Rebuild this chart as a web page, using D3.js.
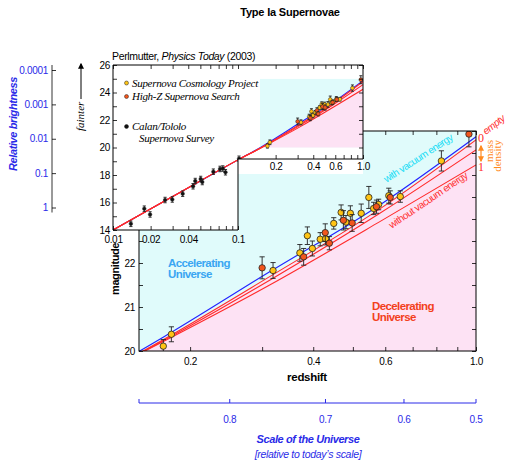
<!DOCTYPE html>
<meta charset="utf-8">
<head>
<script src="https://d3js.org/d3.v7.min.js"></script>
<style>
  body { margin: 0; background: #fff; }
  text { font-family: "Liberation Sans", Arial, Helvetica, sans-serif; }
  .serif { font-family: "Liberation Serif", "Times New Roman", serif; }
</style>
<title>Type Ia Supernovae</title>
</head>
<body>
<script>

// Supernova Cosmology Project (yellow): redshift, magnitude, error
var scpZ   = [0.172, 0.180, 0.319, 0.371, 0.387, 0.398, 0.416, 0.429, 0.449, 0.468, 0.481, 0.493, 0.524, 0.547, 0.562, 0.578, 0.612, 0.653, 0.823];
var scpMag = [20.11, 20.38, 21.83, 22.23, 22.62, 22.33, 22.54, 22.55, 22.90, 23.15, 22.93, 23.13, 23.13, 23.49, 23.24, 23.33, 23.53, 23.51, 24.32];
var scpErr = [0.15, 0.17, 0.18, 0.19, 0.20, 0.17, 0.15, 0.14, 0.13, 0.17, 0.15, 0.17, 0.21, 0.25, 0.14, 0.12, 0.17, 0.13, 0.23];

// High-Z Supernova Search (red)
var hzZ   = [0.300, 0.379, 0.428, 0.438, 0.474, 0.498, 0.571, 0.617, 0.961];
var hzMag = [21.89, 22.14, 22.69, 22.45, 22.97, 22.91, 23.28, 23.49, 24.93];
var hzErr = [0.25, 0.19, 0.20, 0.15, 0.22, 0.19, 0.15, 0.15, 0.29];

// Calan/Tololo Supernova Survey (black, inset only)
var ctZ   = [0.0139, 0.0178, 0.0198, 0.0261, 0.0298, 0.0361, 0.0437, 0.0455, 0.0503, 0.0518, 0.0635, 0.0718, 0.0756, 0.0794, 0.1019];
var ctMag = [14.45, 15.55, 15.13, 16.18, 16.22, 16.64, 17.18, 17.56, 17.71, 17.49, 18.24, 18.44, 18.47, 18.20, 19.18];
var ctErr = [0.2, 0.2, 0.2, 0.2, 0.2, 0.2, 0.2, 0.2, 0.2, 0.2, 0.2, 0.2, 0.2, 0.2, 0.2];

// model curves (magnitude at each redshift)
var curveZ      = [0.01, 0.03, 0.1, 0.15, 0.313, 0.582, 1.0];
var vacuumLine  = [14.0, 16.43, 19.1, 19.99, 21.80, 23.32, 24.87];
var emptyLine   = [14.0, 16.43, 19.1, 19.95, 21.69, 23.23, 24.80];
var halfLine    = [14.0, 16.43, 19.1, 19.94, 21.61, 23.13, 24.57];
var denseLine   = [14.0, 16.43, 19.1, 19.93, 21.50, 22.94, 24.23];

// ticks
var mainMinorZ   = [0.2, 0.3, 0.4, 0.5, 0.6, 0.7, 0.8, 0.9, 1.0];
var mainLabelZ   = [0.2, 0.4, 0.6, 1.0];
var mainLabelTxt = ["0.2", "0.4", "0.6", "1.0"];
var mainMagTicks = [20, 20.5, 21, 21.5, 22, 22.5, 23, 23.5, 24, 24.5, 25];
var mainMagLabels = [20, 21, 22];

var insetMinorZ   = [0.01, 0.02, 0.03, 0.04, 0.05, 0.06, 0.07, 0.08, 0.09, 0.1, 0.2, 0.3, 0.4, 0.5, 0.6, 0.7, 0.8, 0.9, 1.0];
var insetLabelZ   = [0.01, 0.02, 0.04, 0.1, 0.2, 0.4, 0.6, 1.0];
var insetLabelTxt = ["0.01", "0.02", "0.04", "0.1", "0.2", "0.4", "0.6", "1.0"];
var insetMagTicks = [14, 15, 16, 17, 18, 19, 20, 21, 22, 23, 24, 25, 26];

var brightTicks = [1, 0.1, 0.01, 0.001, 0.0001];
var brightTxt   = ["1", "0.1", "0.01", "0.001", "0.0001"];

var scaleTicks = [0.8, 0.7, 0.6, 0.5];
var scaleTxt   = ["0.8", "0.7", "0.6", "0.5"];

// colours
var cyanFill = "#e0fbfb", pinkFill = "#fde2f4";
var blueLine = "#2222ff", redLine = "#ff2a2a";
var yellowPt = "#ffc414", redPt = "#f2561d";
var textBlue = "#2a2ae8";

var svg = d3.select("body").append("svg")
    .attr("width", 509)
    .attr("height", 460);

var defs = svg.append("defs");

function zip(zs, ms) { return zs.map(function (z, i) { return [z, ms[i]]; }); }
function labelOf(vals, txt) { return function (d) { var i = vals.indexOf(d); return i < 0 ? "" : txt[i]; }; }

function styleAxis(g, size) {
    g.select(".domain").remove();
    g.selectAll("line").attr("stroke", "#000").attr("stroke-width", 0.8);
    g.selectAll("text").attr("font-family", "Liberation Sans, Arial, sans-serif")
        .attr("font-size", size).attr("letter-spacing", "-0.3").attr("fill", "#000");
}

function drawPoints(g, xs, ys, zs, ms, es, fill, r, cap) {
    var pts = zs.map(function (z, i) { return {z: z, m: ms[i], e: es[i]}; });
    var grp = g.append("g").selectAll("g").data(pts).join("g");
    grp.append("line")
        .attr("x1", d => xs(d.z)).attr("x2", d => xs(d.z))
        .attr("y1", d => ys(d.m - d.e)).attr("y2", d => ys(d.m + d.e))
        .attr("stroke", "#222").attr("stroke-width", 0.9);
    [-1, 1].forEach(function (s) {
        grp.append("line")
            .attr("x1", d => xs(d.z) - cap).attr("x2", d => xs(d.z) + cap)
            .attr("y1", d => ys(d.m + s * d.e)).attr("y2", d => ys(d.m + s * d.e))
            .attr("stroke", "#222").attr("stroke-width", 0.9);
    });
    grp.append("circle")
        .attr("cx", d => xs(d.z)).attr("cy", d => ys(d.m)).attr("r", r)
        .attr("fill", fill).attr("stroke", "#222").attr("stroke-width", r > 2.5 ? 0.8 : 0.5);
}

function drawCurves(g, xs, ys) {
    var line = d3.line().x(d => xs(d[0])).y(d => ys(d[1])).curve(d3.curveMonotoneX);
    g.append("path").attr("d", line(zip(curveZ, vacuumLine)))
        .attr("fill", "none").attr("stroke", blueLine).attr("stroke-width", 1.1);
    [emptyLine, halfLine, denseLine].forEach(function (arr) {
        g.append("path").attr("d", line(zip(curveZ, arr)))
            .attr("fill", "none").attr("stroke", redLine).attr("stroke-width", 1.1);
    });
}

// ---------------- main plot ----------------
var xMain = d3.scaleLog().domain([0.15, 1.0]).range([139, 476]);
var yMain = d3.scaleLinear().domain([20, 25]).range([351, 131]);

defs.append("clipPath").attr("id", "mainClip").append("rect")
    .attr("x", xMain.range()[0]).attr("y", yMain.range()[1])
    .attr("width", xMain.range()[1] - xMain.range()[0])
    .attr("height", yMain.range()[0] - yMain.range()[1]);

var main = svg.append("g");
var mainIn = main.append("g").attr("clip-path", "url(#mainClip)");

mainIn.append("rect")
    .attr("x", xMain.range()[0]).attr("y", yMain.range()[1])
    .attr("width", xMain.range()[1] - xMain.range()[0])
    .attr("height", yMain.range()[0] - yMain.range()[1])
    .attr("fill", cyanFill);

var pinkArea = d3.area().x(d => xMain(d[0])).y0(yMain(19)).y1(d => yMain(d[1])).curve(d3.curveMonotoneX);
mainIn.append("path").attr("d", pinkArea(zip(curveZ, emptyLine))).attr("fill", pinkFill);

drawCurves(mainIn, xMain, yMain);
drawPoints(mainIn, xMain, yMain, scpZ, scpMag, scpErr, yellowPt, 3.2, 2.6);
drawPoints(mainIn, xMain, yMain, hzZ, hzMag, hzErr, redPt, 3.2, 2.6);

main.append("rect")
    .attr("x", xMain.range()[0]).attr("y", yMain.range()[1])
    .attr("width", xMain.range()[1] - xMain.range()[0])
    .attr("height", yMain.range()[0] - yMain.range()[1])
    .attr("fill", "none").attr("stroke", "#000").attr("stroke-width", 1);

main.append("g").attr("transform", "translate(0," + yMain.range()[0] + ")")
    .call(d3.axisBottom(xMain).tickValues(mainMinorZ).tickSize(-4).tickPadding(7)
        .tickFormat(labelOf(mainLabelZ, mainLabelTxt)))
    .call(g => styleAxis(g, 10));
main.append("g").attr("transform", "translate(0," + yMain.range()[1] + ")")
    .call(d3.axisTop(xMain).tickValues(mainMinorZ).tickSize(-4).tickFormat(""))
    .call(g => styleAxis(g, 10));
main.append("g").attr("transform", "translate(" + xMain.range()[0] + ",0)")
    .call(d3.axisLeft(yMain).tickValues(mainMagTicks).tickSize(-4).tickPadding(4)
        .tickFormat(d => mainMagLabels.indexOf(d) >= 0 ? d : ""))
    .call(g => styleAxis(g, 10));
main.append("g").attr("transform", "translate(" + xMain.range()[1] + ",0)")
    .call(d3.axisRight(yMain).tickValues(mainMagTicks).tickSize(-4).tickFormat(""))
    .call(g => styleAxis(g, 10));

// annotations in main plot
var acc = main.append("text").attr("x", 168).attr("y", 267)
    .attr("font-size", 11.5).attr("font-weight", "bold").attr("letter-spacing", "-0.6")
    .attr("fill", "#3aa6f2");
acc.append("tspan").attr("x", 168).text("Accelerating");
acc.append("tspan").attr("x", 168).attr("dy", 11).text("Universe");

var dec = main.append("text").attr("x", 372).attr("y", 310)
    .attr("font-size", 11.5).attr("font-weight", "bold").attr("letter-spacing", "-0.6")
    .attr("fill", "#f3401c");
dec.append("tspan").attr("x", 372).text("Decelerating");
dec.append("tspan").attr("x", 372).attr("dy", 11).text("Universe");

main.append("text").attr("transform", "translate(420,161) rotate(-33)")
    .attr("text-anchor", "middle").attr("font-size", 10).attr("letter-spacing", "-0.5")
    .attr("fill", "#14dcf5").text("with vacuum energy");
main.append("text").attr("transform", "translate(430,203) rotate(-34)")
    .attr("text-anchor", "middle").attr("font-size", 10).attr("letter-spacing", "-0.5")
    .attr("fill", "#ff3030").text("without vacuum energy");

main.append("text").attr("x", 307).attr("y", 381).attr("text-anchor", "middle")
    .attr("font-size", 11.5).attr("font-weight", "bold").attr("letter-spacing", "-0.3")
    .text("redshift");
main.append("text").attr("transform", "translate(119,269) rotate(-90)")
    .attr("text-anchor", "middle").attr("font-size", 11).attr("font-weight", "bold")
    .attr("letter-spacing", "-0.4").text("magnitude");

// mass density labels on the right
main.append("text").attr("class", "serif").attr("x", 478).attr("y", 142)
    .attr("font-size", 12).attr("fill", "#ff2a2a").text("0");
main.append("text").attr("transform", "translate(486,135) rotate(-38)")
    .attr("font-size", 10).attr("font-style", "italic").attr("letter-spacing", "-0.5")
    .attr("fill", "#ff2a2a").text("empty");
main.append("text").attr("class", "serif").attr("x", 478).attr("y", 171)
    .attr("font-size", 12).attr("fill", "#ff2a2a").text("1");
main.append("text").attr("class", "serif").attr("transform", "translate(493,140) rotate(-90)")
    .attr("text-anchor", "end").attr("font-size", 11).attr("fill", "#ff8a1e").text("mass");
main.append("text").attr("class", "serif").attr("transform", "translate(501,140) rotate(-90)")
    .attr("text-anchor", "end").attr("font-size", 11).attr("fill", "#ff8a1e").text("density");

defs.append("marker").attr("id", "headO").attr("viewBox", "0 0 10 10").attr("refX", 8).attr("refY", 5)
    .attr("markerWidth", 5).attr("markerHeight", 5).attr("orient", "auto-start-reverse")
    .append("path").attr("d", "M0,0 L10,5 L0,10 z").attr("fill", "#ff8a1e");
main.append("line").attr("x1", 481).attr("x2", 481).attr("y1", 146).attr("y2", 161)
    .attr("stroke", "#ff8a1e").attr("stroke-width", 1.2)
    .attr("marker-start", "url(#headO)").attr("marker-end", "url(#headO)");

// ---------------- inset ----------------
var xIn = d3.scaleLog().domain([0.01, 1.0]).range([113, 363]);
var yIn = d3.scaleLinear().domain([14, 26]).range([230, 65]);
var cutY = 159;

function insetShape(bottomRight) {
    return [[xIn(0.01), yIn(26)], [xIn(1), yIn(26)], [xIn(1), bottomRight],
            [xIn(0.1), bottomRight], [xIn(0.1), yIn(14)], [xIn(0.01), yIn(14)]];
}
var polyStr = pts => pts.map(p => p.join(",")).join(" ");

var inset = svg.append("g");
inset.append("polygon").attr("points", polyStr(insetShape(cutY + 15))).attr("fill", "#fff");

defs.append("clipPath").attr("id", "insetClip").append("polygon")
    .attr("points", polyStr(insetShape(cutY)));
defs.append("clipPath").attr("id", "shadeClip").append("rect")
    .attr("x", xIn(0.15)).attr("y", yIn(25))
    .attr("width", xIn(1) - xIn(0.15)).attr("height", yIn(20) - yIn(25));

var insetIn = inset.append("g").attr("clip-path", "url(#insetClip)");
var shade = insetIn.append("g").attr("clip-path", "url(#shadeClip)");
shade.append("rect").attr("x", xIn(0.15)).attr("y", yIn(25))
    .attr("width", xIn(1) - xIn(0.15)).attr("height", yIn(20) - yIn(25)).attr("fill", cyanFill);
var pinkIn = d3.area().x(d => xIn(d[0])).y0(yIn(19)).y1(d => yIn(d[1])).curve(d3.curveMonotoneX);
shade.append("path").attr("d", pinkIn(zip(curveZ, emptyLine))).attr("fill", pinkFill);

drawCurves(insetIn, xIn, yIn);
drawPoints(insetIn, xIn, yIn, ctZ, ctMag, ctErr, "#111", 1.8, 1.6);
drawPoints(insetIn, xIn, yIn, scpZ, scpMag, scpErr, yellowPt, 1.9, 1.5);
drawPoints(insetIn, xIn, yIn, hzZ, hzMag, hzErr, redPt, 1.9, 1.5);

inset.append("polygon").attr("points", polyStr(insetShape(cutY)))
    .attr("fill", "none").attr("stroke", "#000").attr("stroke-width", 1);

inset.append("g").attr("transform", "translate(" + xIn.range()[0] + ",0)")
    .call(d3.axisLeft(yIn).tickValues(insetMagTicks).tickSize(-4).tickPadding(3)
        .tickFormat(d => d % 2 === 0 ? d : ""))
    .call(g => styleAxis(g, 10));
inset.append("g").attr("transform", "translate(" + xIn.range()[1] + ",0)")
    .call(d3.axisRight(yIn).tickValues(insetMagTicks.filter(m => yIn(m) < cutY)).tickSize(-4).tickFormat(""))
    .call(g => styleAxis(g, 10));
inset.append("g").attr("transform", "translate(0," + yIn.range()[1] + ")")
    .call(d3.axisTop(xIn).tickValues(insetMinorZ).tickSize(-4).tickFormat(""))
    .call(g => styleAxis(g, 10));
inset.append("g").attr("transform", "translate(0," + yIn.range()[0] + ")")
    .call(d3.axisBottom(xIn).tickValues(insetMinorZ.filter(z => z <= 0.1)).tickSize(-4).tickPadding(6)
        .tickFormat(labelOf(insetLabelZ, insetLabelTxt)))
    .call(g => styleAxis(g, 10));
inset.append("g").attr("transform", "translate(0," + cutY + ")")
    .call(d3.axisBottom(xIn).tickValues(insetMinorZ.filter(z => z > 0.1)).tickSize(-4).tickPadding(4)
        .tickFormat(labelOf(insetLabelZ, insetLabelTxt)))
    .call(g => styleAxis(g, 10));

// inset title and legend
var cite = inset.append("text").attr("x", 112).attr("y", 60)
    .attr("font-size", 10.5).attr("letter-spacing", "-0.35");
cite.append("tspan").text("Perlmutter, ");
cite.append("tspan").attr("font-style", "italic").text("Physics Today");
cite.append("tspan").text(" (2003)");

var legend = [
    {fill: yellowPt, y: 83, lines: ["Supernova Cosmology Project"]},
    {fill: redPt, y: 96.5, lines: ["High-Z Supernova Search"]},
    {fill: "#111", y: 126.5, lines: ["Calan/Tololo", "Supernova Survey"]}
];
legend.forEach(function (l) {
    inset.append("circle").attr("cx", 126.5).attr("cy", l.y).attr("r", 2)
        .attr("fill", l.fill).attr("stroke", "#222").attr("stroke-width", 0.5);
    l.lines.forEach(function (t, i) {
        inset.append("text").attr("class", "serif")
            .attr("x", i === 0 ? 132 : 139).attr("y", l.y + 3.8 + i * 12)
            .attr("font-size", 11).attr("font-style", "italic").attr("letter-spacing", "-0.3")
            .text(t);
    });
});

// ---------------- relative brightness axis ----------------
var yBright = d3.scaleLog().domain([1, 0.0001]).range([207.5, 70]);
var bright = svg.append("g").attr("transform", "translate(52,0)");
bright.append("line").attr("x1", 0).attr("x2", 0)
    .attr("y1", yBright.range()[1] - 5).attr("y2", yBright.range()[0] + 5)
    .attr("stroke", "#000").attr("stroke-width", 1);
bright.call(d3.axisLeft(yBright).tickValues(brightTicks).tickSize(-4).tickPadding(4)
        .tickFormat(labelOf(brightTicks, brightTxt)))
    .call(g => styleAxis(g, 10));
bright.selectAll("text").attr("fill", textBlue);

svg.append("text").attr("transform", "translate(17,124) rotate(-90)")
    .attr("text-anchor", "middle").attr("font-size", 11).attr("font-weight", "bold")
    .attr("font-style", "italic").attr("letter-spacing", "-0.4").attr("fill", textBlue)
    .text("Relative brightness");

// fainter arrow
defs.append("marker").attr("id", "headK").attr("viewBox", "0 0 10 10").attr("refX", 8).attr("refY", 5)
    .attr("markerWidth", 6).attr("markerHeight", 6).attr("orient", "auto")
    .append("path").attr("d", "M0,0 L10,5 L0,10 z").attr("fill", "#000");
svg.append("line").attr("x1", 81).attr("x2", 81).attr("y1", 99).attr("y2", 64)
    .attr("stroke", "#000").attr("stroke-width", 1).attr("marker-end", "url(#headK)");
svg.append("text").attr("class", "serif").attr("transform", "translate(84,131) rotate(-90)")
    .attr("font-size", 11).attr("font-style", "italic").text("fainter");

// ---------------- scale of the universe axis ----------------
var scaleAx = svg.append("g").attr("transform", "translate(0,403)");
var scaleX = s => xMain(1 / s - 1);
scaleAx.append("line").attr("x1", xMain.range()[0]).attr("x2", xMain.range()[1])
    .attr("stroke", textBlue).attr("stroke-width", 1);
scaleAx.selectAll(".tk").data([xMain.range()[0]].concat(scaleTicks.map(scaleX))).join("line")
    .attr("x1", d => d).attr("x2", d => d).attr("y1", 0).attr("y2", -4)
    .attr("stroke", textBlue).attr("stroke-width", 1);
scaleAx.selectAll(".lb").data(scaleTicks).join("text")
    .attr("x", d => scaleX(d)).attr("y", 20).attr("text-anchor", "middle")
    .attr("font-size", 10).attr("letter-spacing", "-0.3").attr("fill", textBlue)
    .text((d, i) => scaleTxt[i]);

svg.append("text").attr("x", 308).attr("y", 443).attr("text-anchor", "middle")
    .attr("font-size", 11).attr("font-weight", "bold").attr("font-style", "italic")
    .attr("letter-spacing", "-0.4").attr("fill", textBlue).text("Scale of the Universe");
svg.append("text").attr("x", 308).attr("y", 458).attr("text-anchor", "middle")
    .attr("font-size", 10.5).attr("font-style", "italic")
    .attr("letter-spacing", "-0.3").attr("fill", textBlue).text("[relative to today\u2019s scale]");

// title
svg.append("text").attr("x", 290).attr("y", 16).attr("text-anchor", "middle")
    .attr("font-size", 11).attr("font-weight", "bold").attr("letter-spacing", "-0.2")
    .text("Type Ia Supernovae");

</script>
</body>
</html>
